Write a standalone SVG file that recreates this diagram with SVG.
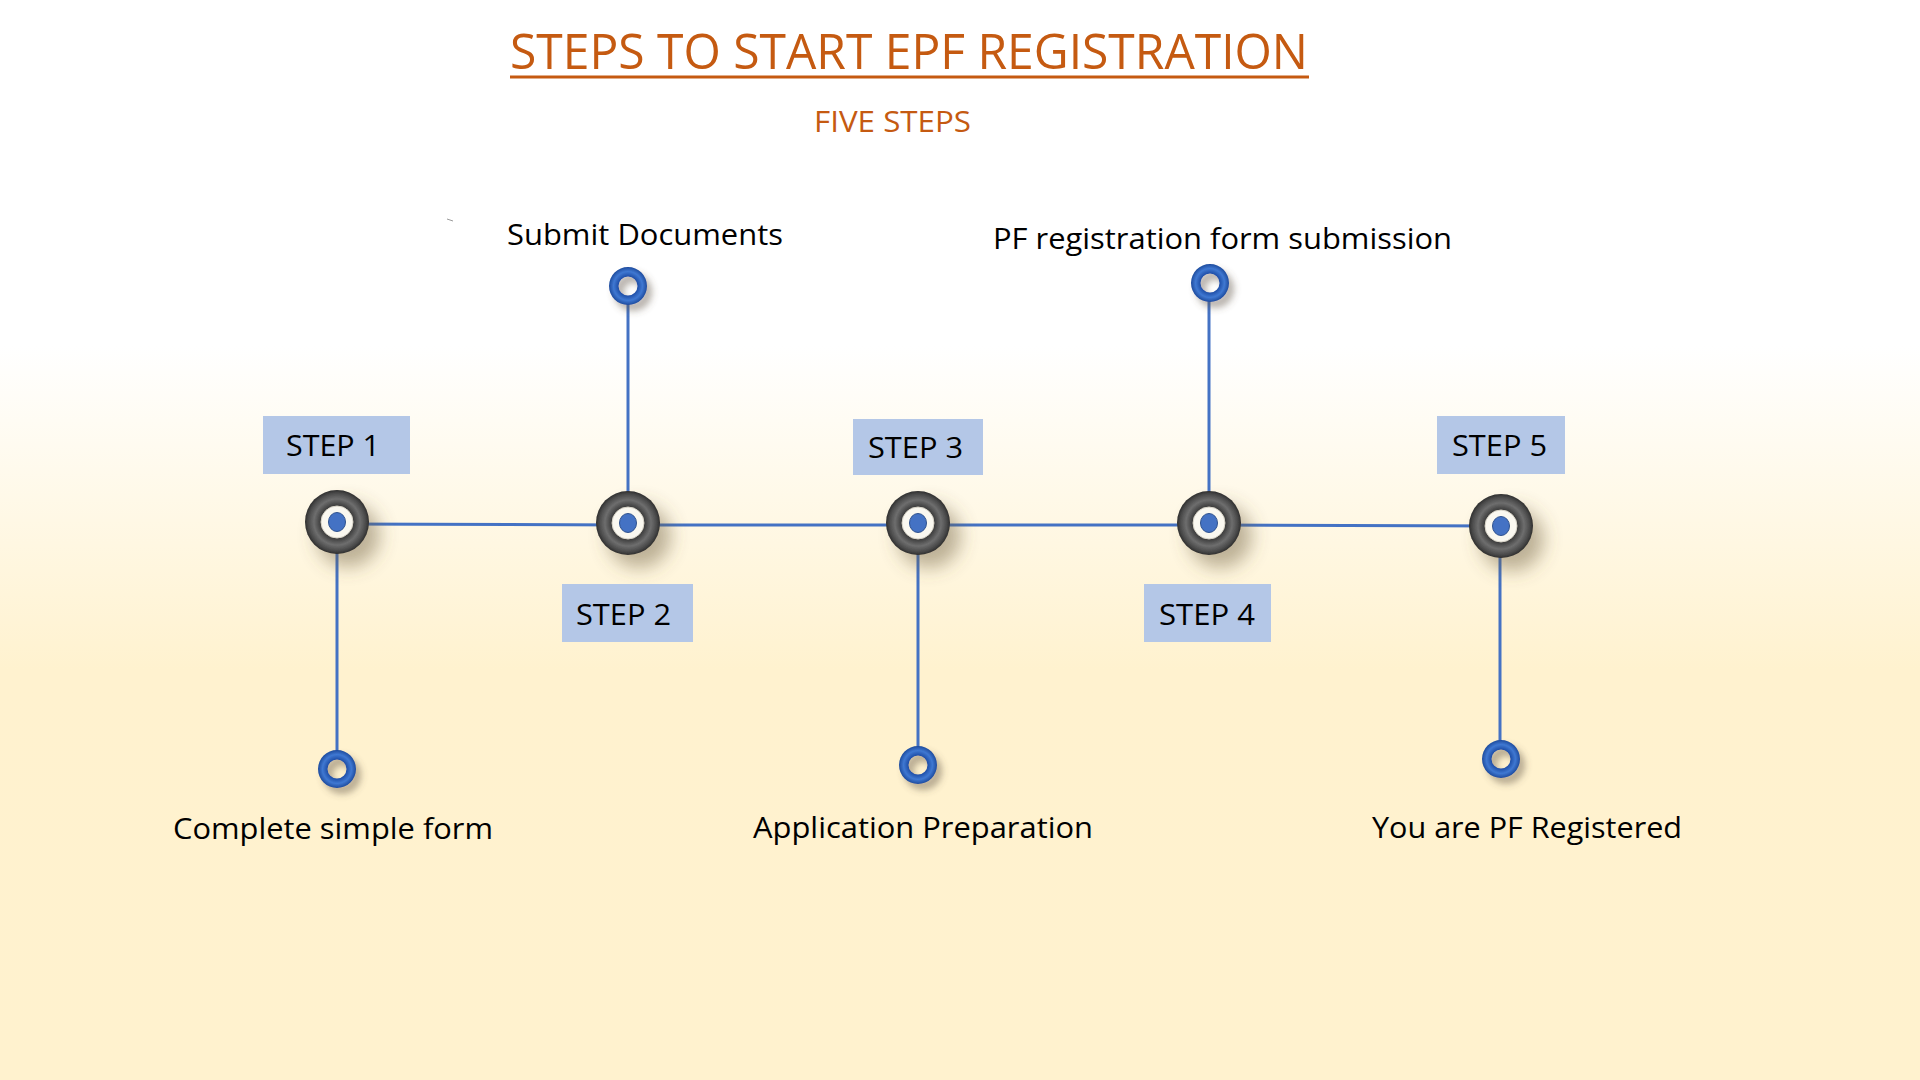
<svg xmlns="http://www.w3.org/2000/svg" xmlns:xlink="http://www.w3.org/1999/xlink" width="1920" height="1080" viewBox="0 0 1920 1080">
<defs>
<linearGradient id="bg" x1="0" y1="0" x2="0" y2="1">
<stop offset="0" stop-color="#FFFFFF"/>
<stop offset="0.32" stop-color="#FFFFFF"/>
<stop offset="0.62" stop-color="#FFF2CF"/>
<stop offset="1" stop-color="#FFF2CE"/>
</linearGradient>
<radialGradient id="darkRing" gradientUnits="userSpaceOnUse" cx="0" cy="0" r="32">
<stop offset="0.5" stop-color="#3a3a3a"/>
<stop offset="0.72" stop-color="#6e6e6e"/>
<stop offset="0.9" stop-color="#4a4a4a"/>
<stop offset="1" stop-color="#2e2e2e"/>
</radialGradient>
<radialGradient id="blueRing" gradientUnits="userSpaceOnUse" cx="0" cy="0" r="19">
<stop offset="0.5" stop-color="#1F4FA8"/>
<stop offset="0.76" stop-color="#3F78D2"/>
<stop offset="1" stop-color="#1E4C9E"/>
</radialGradient>
<filter id="shadow" x="-80%" y="-80%" width="260%" height="260%">
<feDropShadow dx="11" dy="13" stdDeviation="9" flood-color="#6B5A3A" flood-opacity="0.45"/>
</filter>
<filter id="shadowS" x="-80%" y="-80%" width="260%" height="260%">
<feDropShadow dx="5" dy="6" stdDeviation="3.5" flood-color="#5A5040" flood-opacity="0.45"/>
</filter>
<style>
.lbl{font-family:"Open Sans","Liberation Sans",sans-serif;fill:#000;}
.step{font-family:"Open Sans","Liberation Sans",sans-serif;font-size:30px;fill:#000;}
.box{fill:#B4C7E7;}
.conn{stroke:#4472C4;stroke-width:3;fill:none;}
.hole{fill:#FAF8F0;stroke:#d8d4c8;stroke-width:1;}
.dot{fill:#4472C4;stroke:#2F528F;stroke-width:1;}
.title{font-family:"Open Sans","Liberation Sans",sans-serif;fill:#C55A11;}
</style>
</defs>
<rect x="0" y="0" width="1920" height="1080" fill="url(#bg)"/>

<g id="title">
<text class="title" x="510" y="69" font-size="50" textLength="798" lengthAdjust="spacingAndGlyphs">STEPS TO START EPF REGISTRATION</text>
<rect x="510" y="75.5" width="799" height="3" fill="#C55A11"/>
<text class="title" x="814" y="132" font-size="30" textLength="157" lengthAdjust="spacingAndGlyphs">FIVE STEPS</text>
</g>

<line x1="447" y1="219" x2="453" y2="221" stroke="#9a9a9a" stroke-width="1"/>

<g id="connectors">
<polyline class="conn" points="337,524 627,525 918,525 1209,525 1500,526"/>
<line class="conn" x1="337" y1="524" x2="337" y2="752"/>
<line class="conn" x1="628" y1="303" x2="628" y2="524"/>
<line class="conn" x1="918" y1="525" x2="918" y2="748"/>
<line class="conn" x1="1209" y1="300" x2="1209" y2="525"/>
<line class="conn" x1="1500" y1="526" x2="1500" y2="742"/>
</g>

<g id="node-step1">
<g transform="translate(337,522)"><circle r="32" fill="url(#darkRing)" filter="url(#shadow)"/><circle class="hole" r="16"/><ellipse class="dot" rx="8.5" ry="9.5"/></g>
<rect class="box" x="263" y="416" width="147" height="58"/>
<text class="step" x="286" y="456" textLength="94" lengthAdjust="spacingAndGlyphs">STEP 1</text>
</g>
<g id="node-step1-detail">
<g transform="translate(337,769)"><path d="M-19,0a19,19 0 1,0 38,0a19,19 0 1,0 -38,0ZM-9.5,0a9.5,9.5 0 1,1 19,0a9.5,9.5 0 1,1 -19,0Z" fill="url(#blueRing)" fill-rule="evenodd" filter="url(#shadowS)"/></g>
<text class="lbl" x="173" y="839" font-size="29" textLength="320" lengthAdjust="spacingAndGlyphs">Complete simple form</text>
</g>

<g id="node-step2">
<g transform="translate(628,523)"><circle r="32" fill="url(#darkRing)" filter="url(#shadow)"/><circle class="hole" r="16"/><ellipse class="dot" rx="8.5" ry="9.5"/></g>
<rect class="box" x="562" y="584" width="131" height="58"/>
<text class="step" x="576" y="625" textLength="95" lengthAdjust="spacingAndGlyphs">STEP 2</text>
</g>
<g id="node-step2-detail">
<g transform="translate(628,286)"><path d="M-19,0a19,19 0 1,0 38,0a19,19 0 1,0 -38,0ZM-9.5,0a9.5,9.5 0 1,1 19,0a9.5,9.5 0 1,1 -19,0Z" fill="url(#blueRing)" fill-rule="evenodd" filter="url(#shadowS)"/></g>
<text class="lbl" x="507" y="245" font-size="29" textLength="276" lengthAdjust="spacingAndGlyphs">Submit Documents</text>
</g>

<g id="node-step3">
<g transform="translate(918,523)"><circle r="32" fill="url(#darkRing)" filter="url(#shadow)"/><circle class="hole" r="16"/><ellipse class="dot" rx="8.5" ry="9.5"/></g>
<rect class="box" x="853" y="419" width="130" height="56"/>
<text class="step" x="868" y="458" textLength="95" lengthAdjust="spacingAndGlyphs">STEP 3</text>
</g>
<g id="node-step3-detail">
<g transform="translate(918,765)"><path d="M-19,0a19,19 0 1,0 38,0a19,19 0 1,0 -38,0ZM-9.5,0a9.5,9.5 0 1,1 19,0a9.5,9.5 0 1,1 -19,0Z" fill="url(#blueRing)" fill-rule="evenodd" filter="url(#shadowS)"/></g>
<text class="lbl" x="753" y="838" font-size="29" textLength="340" lengthAdjust="spacingAndGlyphs">Application Preparation</text>
</g>

<g id="node-step4">
<g transform="translate(1209,523)"><circle r="32" fill="url(#darkRing)" filter="url(#shadow)"/><circle class="hole" r="16"/><ellipse class="dot" rx="8.5" ry="9.5"/></g>
<rect class="box" x="1144" y="584" width="127" height="58"/>
<text class="step" x="1159" y="625" textLength="96" lengthAdjust="spacingAndGlyphs">STEP 4</text>
</g>
<g id="node-step4-detail">
<g transform="translate(1210,283)"><path d="M-19,0a19,19 0 1,0 38,0a19,19 0 1,0 -38,0ZM-9.5,0a9.5,9.5 0 1,1 19,0a9.5,9.5 0 1,1 -19,0Z" fill="url(#blueRing)" fill-rule="evenodd" filter="url(#shadowS)"/></g>
<text class="lbl" x="993" y="249" font-size="29" textLength="459" lengthAdjust="spacingAndGlyphs">PF registration form submission</text>
</g>

<g id="node-step5">
<g transform="translate(1501,526)"><circle r="32" fill="url(#darkRing)" filter="url(#shadow)"/><circle class="hole" r="16"/><ellipse class="dot" rx="8.5" ry="9.5"/></g>
<rect class="box" x="1437" y="416" width="128" height="58"/>
<text class="step" x="1452" y="456" textLength="95" lengthAdjust="spacingAndGlyphs">STEP 5</text>
</g>
<g id="node-step5-detail">
<g transform="translate(1501,759)"><path d="M-19,0a19,19 0 1,0 38,0a19,19 0 1,0 -38,0ZM-9.5,0a9.5,9.5 0 1,1 19,0a9.5,9.5 0 1,1 -19,0Z" fill="url(#blueRing)" fill-rule="evenodd" filter="url(#shadowS)"/></g>
<text class="lbl" x="1372" y="838" font-size="29" textLength="310" lengthAdjust="spacingAndGlyphs">You are PF Registered</text>
</g>
</svg>
